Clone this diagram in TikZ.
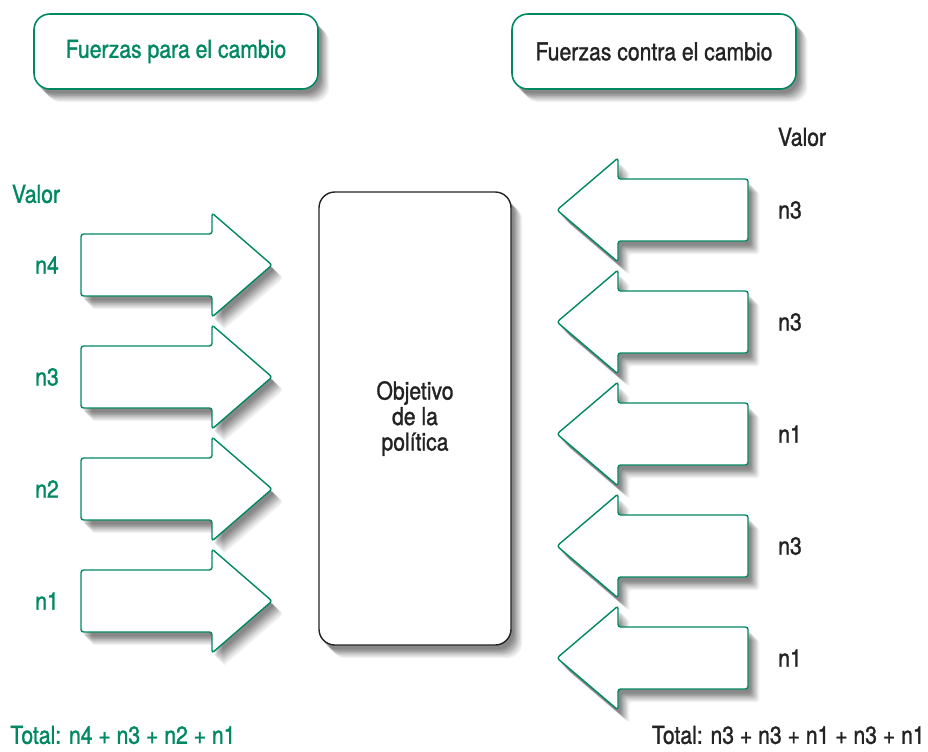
\documentclass[tikz,border=0pt]{standalone}
\usepackage{fontspec}
\setmainfont[FakeStretch=0.86,FakeBold=1.2]{TeX Gyre Heros}
\usepackage{tikz}
\usetikzlibrary{shadows}
\definecolor{verde}{RGB}{0,136,98}
\definecolor{tinta}{RGB}{35,35,35}

\tikzset{
  sombra/.style={
    general shadow={fill=black,opacity=0.05,shadow xshift=6.5pt,shadow yshift=-7.5pt},
    general shadow={fill=black,opacity=0.06,shadow xshift=5.8pt,shadow yshift=-6.8pt},
    general shadow={fill=black,opacity=0.07,shadow xshift=5pt,shadow yshift=-6pt},
    general shadow={fill=black,opacity=0.08,shadow xshift=4.3pt,shadow yshift=-5.3pt},
    general shadow={fill=black,opacity=0.08,shadow xshift=3.6pt,shadow yshift=-4.6pt},
    general shadow={fill=black,opacity=0.09,shadow xshift=2.9pt,shadow yshift=-3.9pt},
    general shadow={fill=black,opacity=0.09,shadow xshift=2.2pt,shadow yshift=-3.2pt},
    general shadow={fill=black,opacity=0.09,shadow xshift=1.5pt,shadow yshift=-2.5pt}},
  titulo/.style={draw=verde,line width=0.9pt,rounded corners=9pt,fill=white,sombra,minimum width=284*0.2mm,minimum height=75*0.2mm,font=\fontsize{14}{16}\selectfont},
  flecha/.style={draw=verde,line width=0.8pt,fill=white,rounded corners=1.5pt,sombra},
  etiq/.style={font=\fontsize{14}{16}\selectfont,inner sep=0pt}
}

\begin{document}
\begin{tikzpicture}[x=0.2mm,y=-0.2mm]
\useasboundingbox (0,0) rectangle (928,751);

\node[titulo,text=verde] (pro) at (176,51.5) {Fuerzas para el cambio};
\node[titulo,text=tinta] (contra) at (654,51.5) {Fuerzas contra el cambio};

\node[draw=tinta,line width=0.8pt,rounded corners=9pt,fill=white,sombra,
      minimum width=192*0.2mm,minimum height=453*0.2mm,align=center,
      font=\fontsize{14}{14.5}\selectfont,text=tinta] (obj) at (415,418.5)
      {Objetivo\\de la\\pol\'{\i}tica};

% fuerzas a favor
\foreach \c in {265,377,489,601}
{
\draw[flecha] (81,\c-31) -- (212,\c-31) -- (212,\c-52) -- (272,\c)
  -- (212,\c+52) -- (212,\c+31) -- (81,\c+31) -- cycle;
}

% fuerzas en contra
\foreach \c in {210,322,434,546,658}
{
\draw[flecha] (748,\c-31) -- (618,\c-31) -- (618,\c-52) -- (557,\c)
  -- (618,\c+52) -- (618,\c+31) -- (748,\c+31) -- cycle;
}

\node[etiq,text=verde] (vizq) at (36,194) {Valor};
\node[etiq,text=verde] (a4) at (47,265) {n4};
\node[etiq,text=verde] (a3) at (47,377) {n3};
\node[etiq,text=verde] (a2) at (47,489) {n2};
\node[etiq,text=verde] (a1) at (47,601) {n1};

\node[etiq,text=tinta] (vder) at (802,137) {Valor};
\node[etiq,text=tinta] (b1) at (790,210) {n3};
\node[etiq,text=tinta] (b2) at (790,322) {n3};
\node[etiq,text=tinta] (b3) at (790,434) {n1};
\node[etiq,text=tinta] (b4) at (790,546) {n3};
\node[etiq,text=tinta] (b5) at (790,658) {n1};

\node[etiq,text=verde,anchor=west] (totizq) at (10,735) {Total: n4 + n3 + n2 + n1};
\node[etiq,text=tinta,anchor=east] (totder) at (925,735) {Total: n3 + n3 + n1 + n3 + n1};
\end{tikzpicture}
\end{document}
